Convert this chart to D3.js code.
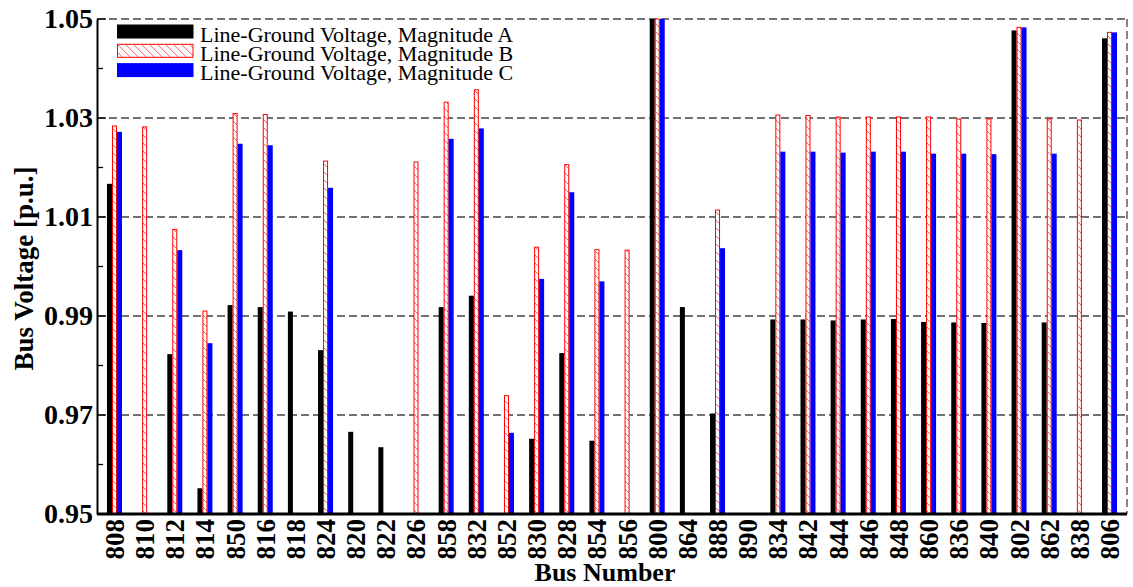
<!DOCTYPE html>
<html>
<head>
<meta charset="utf-8">
<script src="https://cdn.jsdelivr.net/npm/d3@7"></script>
<style>
  body { margin: 0; background: #fff; }
  text { font-family: "Liberation Serif", "Times New Roman", serif; }
</style>
</head>
<body>
<div id="d3-container"></div>
<script>
/**
 * CONSTANTS AND GLOBALS
 * */
const width = 1133,
  height = 587,
  margin = { top: 19, bottom: 73, left: 97, right: 3 };

// bus numbers along the x axis
const buses = ["808", "810", "812", "814", "850", "816", "818", "824", "820", "822",
  "826", "858", "832", "852", "830", "828", "854", "856", "800", "864", "888", "890",
  "834", "842", "844", "846", "848", "860", "836", "840", "802", "862", "838", "806"];

// line-ground voltage magnitudes (p.u.), null = phase not present
const magA = [1.0167, null, 0.9823, 0.9552, 0.9922, 0.9918, 0.9909, 0.9831, 0.9666, 0.9635,
  null, 0.9918, 0.9941, null, 0.9652, 0.9825, 0.9648, null, 1.05, 0.9918, 0.9703, null,
  0.9893, 0.9893, 0.9891, 0.9893, 0.9894, 0.9888, 0.9887, 0.9886, 1.0477, 0.9887, null, 1.0461];
const magB = [1.0284, 1.0282, 1.0075, 0.9910, 1.0309, 1.0307, null, 1.0213, null, null,
  1.0211, 1.0332, 1.0357, 0.9739, 1.0039, 1.0206, 1.0034, 1.0033, 1.05, null, 1.0114, null,
  1.0306, 1.0305, 1.0302, 1.0302, 1.0302, 1.0302, 1.0298, 1.0298, 1.0483, 1.0298, 1.0296, 1.0473];
const magC = [1.0272, null, 1.0033, 0.9845, 1.0248, 1.0245, null, 1.0159, null, null,
  null, 1.0258, 1.0279, 0.9664, 0.9975, 1.0150, 0.9970, null, 1.05, null, 1.0037, null,
  1.0232, 1.0232, 1.0230, 1.0232, 1.0232, 1.0228, 1.0228, 1.0227, 1.0483, 1.0228, null, 1.0473];

const seriesNames = ["Line-Ground Voltage, Magnitude A",
  "Line-Ground Voltage, Magnitude B",
  "Line-Ground Voltage, Magnitude C"];
const majorTicks = [0.95, 0.97, 0.99, 1.01, 1.03, 1.05];
const minorTicks = [0.96, 0.98, 1.00, 1.02, 1.04];

let svg;

/**
 * INITIALIZING FUNCTION
 * */
function init() {
  svg = d3.select("#d3-container")
    .append("svg")
    .attr("width", width)
    .attr("height", height);

  // hatch pattern for phase B
  const defs = svg.append("defs");
  defs.append("pattern")
    .attr("id", "hatch")
    .attr("patternUnits", "userSpaceOnUse")
    .attr("width", 8)
    .attr("height", 8)
    .call(p => p.append("rect").attr("width", 8).attr("height", 8).attr("fill", "#fff"))
    .append("path")
    .attr("d", "M-1,-1 L9,9 M-1,7 L1,9 M7,-1 L9,1")
    .attr("stroke", "#ff5a5a")
    .attr("stroke-width", 1);

  const plotRight = width - margin.right - 3;

  const x = d3.scaleBand()
    .domain(buses)
    .range([margin.left, plotRight])
    .paddingInner(0)
    .paddingOuter(0.08);

  const xSub = d3.scaleBand()
    .domain([0, 1, 2])
    .range([-7.5, 7.5]);

  const y = d3.scaleLinear()
    .domain([0.95, 1.05])
    .range([height - margin.bottom, margin.top]);

  // gridlines
  svg.append("g")
    .selectAll("line")
    .data(majorTicks.slice(1))
    .join("line")
    .attr("x1", margin.left)
    .attr("x2", plotRight)
    .attr("y1", d => y(d))
    .attr("y2", d => y(d))
    .attr("stroke", "#444")
    .attr("stroke-width", 1.3)
    .attr("stroke-dasharray", "8,4");

  // right dashed border
  svg.append("line")
    .attr("x1", plotRight).attr("x2", plotRight)
    .attr("y1", y(1.05)).attr("y2", y(0.95))
    .attr("stroke", "#444")
    .attr("stroke-width", 1.3)
    .attr("stroke-dasharray", "8,4");

  // bars
  const series = [magA, magB, magC];
  const fills = ["#000", "url(#hatch)", "#0000ff"];
  series.forEach((vals, si) => {
    svg.append("g")
      .selectAll("rect")
      .data(buses.map((b, i) => ({ bus: b, v: vals[i] })).filter(d => d.v !== null))
      .join("rect")
      .attr("x", d => x(d.bus) + x.bandwidth() / 2 + xSub(si) + (si === 1 ? 0.5 : 0))
      .attr("width", si === 1 ? xSub.bandwidth() - 1 : xSub.bandwidth())
      .attr("y", d => y(d.v))
      .attr("height", d => y(0.95) - y(d.v))
      .attr("fill", fills[si])
      .attr("stroke", si === 1 ? "#ff0000" : "none")
      .attr("stroke-width", 1);
  });

  // y axis
  const yAxis = svg.append("g")
    .attr("transform", `translate(${margin.left},0)`)
    .call(d3.axisLeft(y).tickValues(majorTicks).tickFormat(d3.format(".2f")).tickSize(0).tickPadding(4));
  yAxis.select(".domain").attr("stroke", "#000").attr("stroke-width", 2);
  yAxis.selectAll("text")
    .attr("font-size", 28)
    .attr("font-weight", "bold")
    .attr("fill", "#000");

  // inward ticks
  svg.append("g")
    .selectAll("line")
    .data(majorTicks.concat(minorTicks))
    .join("line")
    .attr("x1", margin.left)
    .attr("x2", d => margin.left + (majorTicks.includes(d) ? 9 : 6))
    .attr("y1", d => y(d))
    .attr("y2", d => y(d))
    .attr("stroke", "#000")
    .attr("stroke-width", 1.3);

  // x axis
  const xAxis = svg.append("g")
    .attr("transform", `translate(0,${y(0.95)})`)
    .call(d3.axisBottom(x).tickSize(0).tickPadding(4));
  xAxis.select(".domain")
    .attr("d", `M${margin.left},0H${plotRight}`)
    .attr("stroke", "#000").attr("stroke-width", 3);
  xAxis.selectAll("text")
    .attr("font-size", 27)
    .attr("font-weight", "bold")
    .attr("fill", "#000")
    .attr("text-anchor", "end")
    .attr("dy", "0.35em")
    .attr("transform", "translate(0,5) rotate(-90)")
    .attr("x", 0)
    .attr("y", 0);

  // axis titles
  svg.append("text")
    .attr("transform", `translate(33,${(y(0.95) + y(1.05)) / 2 + 2}) rotate(-90)`)
    .attr("text-anchor", "middle")
    .attr("font-size", 27)
    .attr("font-weight", "bold")
    .text("Bus Voltage [p.u.]");

  svg.append("text")
    .attr("x", 605)
    .attr("y", 581)
    .attr("text-anchor", "middle")
    .attr("font-size", 26)
    .attr("font-weight", "bold")
    .text("Bus Number");

  // legend
  const legend = svg.append("g")
    .selectAll("g")
    .data(seriesNames)
    .join("g")
    .attr("transform", (d, i) => `translate(117,${24.5 + i * 19.3})`);

  legend.append("rect")
    .attr("x", (d, i) => i === 1 ? 0.5 : 0)
    .attr("y", (d, i) => i === 1 ? 0.5 : 0)
    .attr("width", (d, i) => i === 1 ? 75.5 : 76.5)
    .attr("height", (d, i) => i === 1 ? 13 : 14)
    .attr("fill", (d, i) => fills[i])
    .attr("stroke", (d, i) => i === 1 ? "#ff0000" : "none");

  legend.append("text")
    .attr("x", 83)
    .attr("y", 17)
    .attr("font-size", 22)
    .attr("fill", "#000")
    .text(d => d);
}

init();
</script>
</body>
</html>
